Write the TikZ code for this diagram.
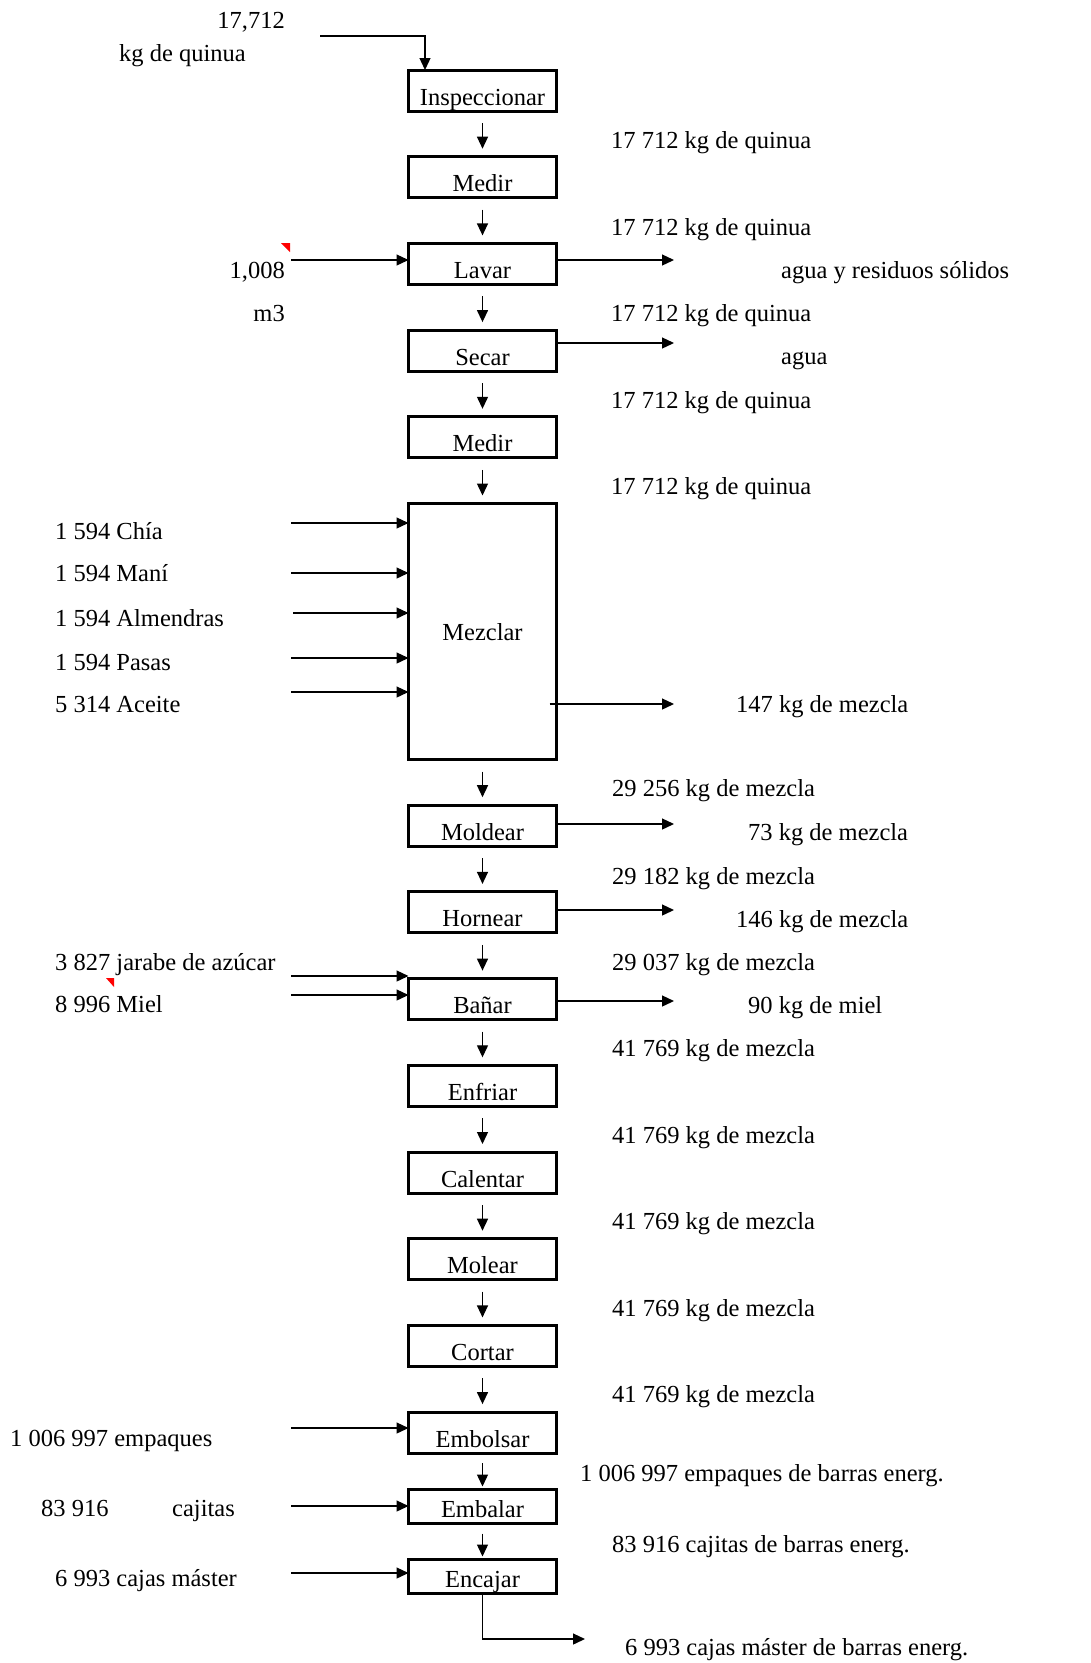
\documentclass[tikz,border=0pt]{standalone}
\usepackage{fontspec}
\setmainfont{Liberation Serif}
\usetikzlibrary{arrows.meta, positioning}

\begin{document}
\begin{tikzpicture}[x=1pt, y=-1pt,
		font=\fontsize{24.5}{29}\selectfont,
		proc/.style={rectangle, draw, line width=3pt, outer sep=0pt, minimum width=148pt, minimum height=41pt,
			text height=32pt, text depth=3pt, inner sep=2pt},
		smallproc/.style={proc, minimum height=34pt, text height=25pt, text depth=4pt},
		flow/.style={-{Triangle[length=12pt, width=11pt]}, line width=1.3pt},
		qty/.style={anchor=west, inner sep=0pt, text height=17pt, text depth=6pt, yshift=-3pt},
		qtyr/.style={qty, anchor=east},
		node distance=45.7pt,
		]
		\useasboundingbox (0,0) rectangle (1091,1663);

		% Etapas
		\node[proc] (insp) at (482.5,90.5) {Inspeccionar};
		\node[proc, below=of insp] (medirA) {Medir};
		\node[proc, below=of medirA] (lavar) {Lavar};
		\node[proc, below=of lavar] (secar) {Secar};
		\node[proc, below=of secar] (medirB) {Medir};
		\node[proc, below=of medirB, minimum height=256pt, text height=22pt, text depth=4pt] (mezclar) {Mezclar};
		\node[proc, below=of mezclar] (moldear) {Moldear};
		\node[proc, below=of moldear] (hornear) {Hornear};
		\node[proc, below=of hornear] (banar) {Bañar};
		\node[proc, below=of banar] (enfriar) {Enfriar};
		\node[proc, below=of enfriar] (calentar) {Calentar};
		\node[proc, below=of calentar] (molear) {Molear};
		\node[proc, below=of molear] (cortar) {Cortar};
		\node[proc, below=of cortar] (embolsar) {Embolsar};
		\node[smallproc, below=36.4pt of embolsar] (embalar) {Embalar};
		\node[smallproc, below=36pt of embalar] (encajar) {Encajar};

		% Flechas entre etapas
		\draw[flow] ([yshift=-12pt]insp.south) -- ([yshift=8pt]medirA.north);
		\draw[flow] ([yshift=-12pt]medirA.south) -- ([yshift=8pt]lavar.north);
		\draw[flow] ([yshift=-12pt]lavar.south) -- ([yshift=8pt]secar.north);
		\draw[flow] ([yshift=-12pt]secar.south) -- ([yshift=8pt]medirB.north);
		\draw[flow] ([yshift=-12pt]medirB.south) -- ([yshift=8pt]mezclar.north);
		\draw[flow] ([yshift=-12pt]mezclar.south) -- ([yshift=8pt]moldear.north);
		\draw[flow] ([yshift=-12pt]moldear.south) -- ([yshift=8pt]hornear.north);
		\draw[flow] ([yshift=-12pt]hornear.south) -- ([yshift=8pt]banar.north);
		\draw[flow] ([yshift=-12pt]banar.south) -- ([yshift=8pt]enfriar.north);
		\draw[flow] ([yshift=-12pt]enfriar.south) -- ([yshift=8pt]calentar.north);
		\draw[flow] ([yshift=-12pt]calentar.south) -- ([yshift=8pt]molear.north);
		\draw[flow] ([yshift=-12pt]molear.south) -- ([yshift=8pt]cortar.north);
		\draw[flow] ([yshift=-12pt]cortar.south) -- ([yshift=8pt]embolsar.north);
		\draw[flow] ([yshift=-10pt]embolsar.south) -- ([yshift=3pt]embalar.north);
		\draw[flow] ([yshift=-10pt]embalar.south) -- ([yshift=3pt]encajar.north);

		% Entradas
		\coordinate (inQuinua) at (320,36);
		\draw[flow] (inQuinua) -| (insp.north -| 425,0);
		\node[qtyr] (quinuaNum) at (285,20) {17,712};
		\node[qty] (quinuaTxt) at (119,53) {kg de quinua};

		\coordinate (inAgua) at (291,260);
		\draw[flow] (inAgua) -- (lavar.west |- inAgua);
		\node[qtyr] (aguaNum) at (285,270) {1,008};
		\node[qtyr] (aguaUnit) at (285,313) {m3};
		\fill[red] (281,243) -- (290,243) -- (290,252) -- cycle;

		\coordinate (inChia) at (291,523);
		\coordinate (inMani) at (291,573);
		\coordinate (inAlmendras) at (293,613);
		\coordinate (inPasas) at (291,658);
		\coordinate (inAceite) at (291,692);
		\draw[flow] (inChia) -- (mezclar.west |- inChia);
		\draw[flow] (inMani) -- (mezclar.west |- inMani);
		\draw[flow] (inAlmendras) -- (mezclar.west |- inAlmendras);
		\draw[flow] (inPasas) -- (mezclar.west |- inPasas);
		\draw[flow] (inAceite) -- (mezclar.west |- inAceite);
		\node[qty] (chia) at (55,531) {1 594 Chía};
		\node[qty] (mani) at (55,573) {1 594 Maní};
		\node[qty] (almendras) at (55,618) {1 594 Almendras};
		\node[qty] (pasas) at (55,662) {1 594 Pasas};
		\node[qty] (aceite) at (55,704) {5 314 Aceite};

		\coordinate (inJarabe) at (291,976);
		\coordinate (inMiel) at (291,995);
		\draw[flow] (inJarabe) -- (banar.west |- inJarabe);
		\draw[flow] (inMiel) -- (banar.west |- inMiel);
		\node[qty] (jarabe) at (55,962) {3 827 jarabe de azúcar};
		\node[qty] (miel) at (55,1004) {8 996 Miel};
		\fill[red] (106,978) -- (114,978) -- (114,987) -- cycle;

		\coordinate (inEmpaques) at (291,1428);
		\coordinate (inCajitas) at (291,1506);
		\coordinate (inCajas) at (291,1573);
		\draw[flow] (inEmpaques) -- (embolsar.west |- inEmpaques);
		\draw[flow] (inCajitas) -- (embalar.west |- inCajitas);
		\draw[flow] (inCajas) -- (encajar.west |- inCajas);
		\node[qty] (empaques) at (10,1438) {1 006 997 empaques};
		\node[qty] (cajitasNum) at (41,1508) {83 916};
		\node[qty] (cajitasTxt) at (172,1508) {cajitas};
		\node[qty] (cajas) at (55,1578) {6 993 cajas máster};

		% Salidas
		\coordinate (outResiduos) at (674,260);
		\coordinate (outAgua) at (674,343);
		\coordinate (outMezclaA) at (674,704);
		\coordinate (outMezclaB) at (674,824);
		\coordinate (outMezclaC) at (674,910);
		\coordinate (outMiel) at (674,1001);
		\draw[flow] (lavar.east |- outResiduos) -- (outResiduos);
		\draw[flow] (secar.east |- outAgua) -- (outAgua);
		\draw[flow] (mezclar.east |- outMezclaA) ++(-7,0) -- (outMezclaA);
		\draw[flow] (moldear.east |- outMezclaB) -- (outMezclaB);
		\draw[flow] (hornear.east |- outMezclaC) -- (outMezclaC);
		\draw[flow] (banar.east |- outMiel) -- (outMiel);
		\node[qty] (residuos) at (781,270) {agua y residuos sólidos};
		\node[qty] (agua) at (781,356) {agua};
		\node[qty] (mermaA) at (736,704) {147 kg de mezcla};
		\node[qty] (mermaB) at (748,832) {73 kg de mezcla};
		\node[qty] (mermaC) at (736,919) {146 kg de mezcla};
		\node[qty] (mermaMiel) at (748,1005) {90 kg de miel};

		\coordinate (outCajas) at (585,1639);
		\draw[flow] (encajar.south) |- (outCajas);

		% Flujo principal
		\node[qty] (quinuaA) at (611,140) {17 712 kg de quinua};
		\node[qty] (quinuaB) at (611,227) {17 712 kg de quinua};
		\node[qty] (quinuaC) at (611,313) {17 712 kg de quinua};
		\node[qty] (quinuaD) at (611,400) {17 712 kg de quinua};
		\node[qty] (quinuaE) at (611,486) {17 712 kg de quinua};
		\node[qty] (mezclaA) at (612,788) {29 256 kg de mezcla};
		\node[qty] (mezclaB) at (612,876) {29 182 kg de mezcla};
		\node[qty] (mezclaC) at (612,962) {29 037 kg de mezcla};
		\node[qty] (mezclaD) at (612,1048) {41 769 kg de mezcla};
		\node[qty] (mezclaE) at (612,1135) {41 769 kg de mezcla};
		\node[qty] (mezclaF) at (612,1221) {41 769 kg de mezcla};
		\node[qty] (mezclaG) at (612,1308) {41 769 kg de mezcla};
		\node[qty] (mezclaH) at (612,1394) {41 769 kg de mezcla};
		\node[qty] (empaquesOut) at (580,1473) {1 006 997 empaques de barras energ.};
		\node[qty] (cajitasOut) at (612,1544) {83 916 cajitas de barras energ.};
		\node[qty] (cajasOut) at (625,1647) {6 993 cajas máster de barras energ.};
	\end{tikzpicture}
\end{document}
